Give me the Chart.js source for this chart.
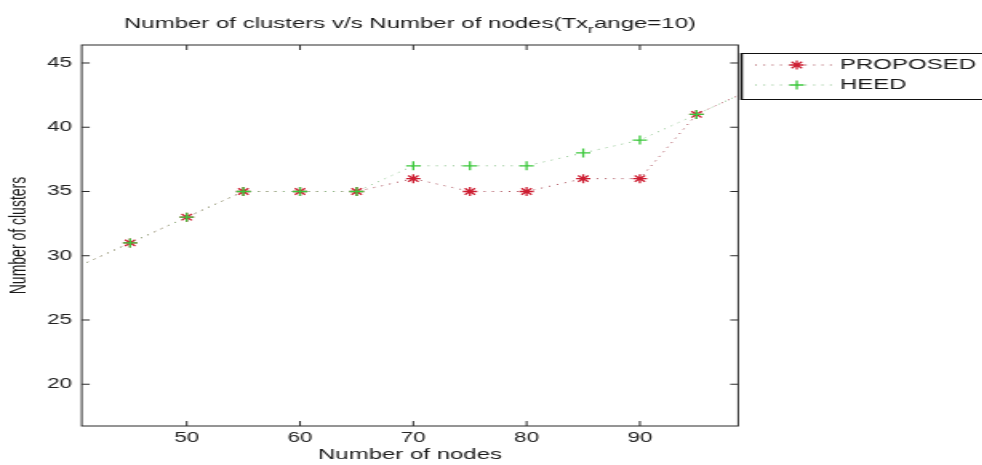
<!DOCTYPE html>
<html>
<head>
<meta charset="utf-8">
<script src="https://cdn.jsdelivr.net/npm/chart.js@4.4.1/dist/chart.umd.min.js"></script>
<style>
body { margin: 0; background: #fff; overflow: hidden; }
#wrap { width: 614px; height: 465px; transform: scaleX(1.6); transform-origin: 0 0; }
</style>
</head>
<body>
<div id="wrap"><canvas id="grafico" width="614" height="465"></canvas></div>
<script>
var nodes = [40, 45, 50, 55, 60, 65, 70, 75, 80, 85, 90, 95, 100];
var proposed = [29, 31, 33, 35, 35, 35, 36, 35, 35, 36, 36, 41, 43];
var heed = [29, 31, 33, 35, 35, 35, 37, 37, 37, 38, 39, 41, 43];
var xTicks = [50, 60, 70, 80, 90];
var yTicks = [20, 25, 30, 35, 40, 45];

var vermelho = 'rgb(205,30,50)';
var verde = 'rgb(60,200,60)';
var linhaVermelha = 'rgb(170,80,90)';
var linhaVerde = 'rgb(140,195,140)';
var tracejado = [1, 4.2];
var fonte = '"Liberation Sans", Arial, sans-serif';

function pontos(valores) {
    var out = [];
    for (var i in nodes) {
        out.push({ x: nodes[i], y: valores[i] });
    }
    return out;
}

function desenhaMarca(ctx, tipo, x, y, r, cor) {
    ctx.strokeStyle = cor;
    ctx.lineWidth = 1.3;
    ctx.setLineDash([]);
    ctx.beginPath();
    ctx.moveTo(x - r, y); ctx.lineTo(x + r, y);
    ctx.moveTo(x, y - r); ctx.lineTo(x, y + r);
    if (tipo == 'star') {
        var d = r * 0.72;
        ctx.moveTo(x - d, y - d); ctx.lineTo(x + d, y + d);
        ctx.moveTo(x - d, y + d); ctx.lineTo(x + d, y - d);
    }
    ctx.stroke();
}

var caixaPlugin = {
    id: 'caixa',
    afterDraw: function (chart) {
        var ctx = chart.ctx, a = chart.chartArea;
        var sx = chart.scales.x, sy = chart.scales.y;
        ctx.save();
        // axes box with inward ticks
        ctx.strokeStyle = '#2a2a2a';
        ctx.lineWidth = 1;
        ctx.strokeRect(a.left, a.top, a.right - a.left, a.bottom - a.top);
        ctx.beginPath();
        sx.ticks.forEach(function (t) {
            var px = sx.getPixelForValue(t.value);
            ctx.moveTo(px, a.bottom); ctx.lineTo(px, a.bottom - 5);
            ctx.moveTo(px, a.top); ctx.lineTo(px, a.top + 5);
        });
        sy.ticks.forEach(function (t) {
            var py = sy.getPixelForValue(t.value);
            ctx.moveTo(a.left, py); ctx.lineTo(a.left + 5, py);
            ctx.moveTo(a.right, py); ctx.lineTo(a.right - 5, py);
        });
        ctx.stroke();

        // title with subscript
        ctx.fillStyle = '#1a1a1a';
        ctx.textBaseline = 'alphabetic';
        ctx.textAlign = 'left';
        var t1 = 'Number of clusters v/s Number of nodes(Tx', sub = 'r', t2 = 'ange=10)';
        ctx.font = '15px ' + fonte;
        var w1 = ctx.measureText(t1).width, w2 = ctx.measureText(t2).width;
        ctx.font = '11px ' + fonte;
        var ws = ctx.measureText(sub).width;
        var x0 = (a.left + a.right) / 2 - (w1 + ws + w2) / 2;
        ctx.font = '15px ' + fonte;
        ctx.fillText(t1, x0, 28);
        ctx.font = '11px ' + fonte;
        ctx.fillText(sub, x0 + w1, 33);
        ctx.font = '15px ' + fonte;
        ctx.fillText(t2, x0 + w1 + ws, 28);

        // legend
        ctx.fillStyle = '#fff';
        ctx.fillRect(463, 53, 200, 46);
        ctx.strokeStyle = '#111';
        ctx.lineWidth = 1;
        ctx.strokeRect(463.5, 53.5, 200, 46);
        ctx.lineWidth = 1.6;
        ctx.beginPath(); ctx.moveTo(463.5, 53); ctx.lineTo(463.5, 100); ctx.stroke();
        var itens = [
            { nome: 'PROPOSED', cor: vermelho, linha: linhaVermelha, tipo: 'star', y: 65 },
            { nome: 'HEED', cor: verde, linha: linhaVerde, tipo: 'cross', y: 85 }
        ];
        itens.forEach(function (it) {
            ctx.strokeStyle = it.linha;
            ctx.lineWidth = 1;
            ctx.setLineDash(tracejado);
            ctx.beginPath(); ctx.moveTo(472, it.y); ctx.lineTo(523, it.y); ctx.stroke();
            desenhaMarca(ctx, it.tipo, 498, it.y, 4.5, it.cor);
            ctx.fillStyle = '#1a1a1a';
            ctx.font = '15px ' + fonte;
            ctx.textBaseline = 'middle';
            ctx.fillText(it.nome, 525, it.y);
        });
        ctx.restore();
    }
};

var grafico = new Chart(document.getElementById('grafico'), {
    type: 'line',
    data: {
        datasets: [
            {
                label: 'PROPOSED',
                order: 2,
                data: pontos(proposed),
                borderColor: linhaVermelha,
                borderWidth: 1,
                borderDash: tracejado,
                pointStyle: 'star',
                pointRadius: 4.5,
                pointBorderWidth: 1.3,
                pointBorderColor: vermelho,
                pointBackgroundColor: vermelho,
                fill: false,
                tension: 0,
                clip: 0
            },
            {
                label: 'HEED',
                order: 1,
                data: pontos(heed),
                borderColor: linhaVerde,
                borderWidth: 1,
                borderDash: tracejado,
                pointStyle: 'cross',
                pointRadius: 4.5,
                pointBorderWidth: 1.3,
                pointBorderColor: verde,
                pointBackgroundColor: verde,
                fill: false,
                tension: 0,
                clip: 0
            }
        ]
    },
    options: {
        responsive: false,
        animation: false,
        devicePixelRatio: 1,
        layout: { padding: { top: 45, right: 152.6, left: 0, bottom: 0 } },
        plugins: {
            legend: { display: false },
            title: { display: false },
            tooltip: { enabled: false }
        },
        scales: {
            x: {
                type: 'linear',
                min: 40.73,
                max: 98.68,
                grid: { display: false, drawTicks: false },
                border: { display: false },
                afterBuildTicks: function (scale) {
                    scale.ticks = xTicks.map(function (v) { return { value: v }; });
                },
                afterFit: function (scale) { scale.height = 39; },
                ticks: { padding: 4, color: '#222', font: { family: fonte, size: 14 } },
                title: {
                    display: true,
                    text: 'Number of nodes',
                    color: '#1a1a1a',
                    padding: { top: 0, bottom: 1 },
                    font: { family: fonte, size: 15 }
                }
            },
            y: {
                type: 'linear',
                min: 16.75,
                max: 46.4,
                grid: { display: false, drawTicks: false },
                border: { display: false },
                afterBuildTicks: function (scale) {
                    scale.ticks = yTicks.map(function (v) { return { value: v }; });
                },
                afterFit: function (scale) { scale.width = 51.1; },
                ticks: { padding: 6, color: '#222', font: { family: fonte, size: 14 } },
                title: {
                    display: true,
                    text: 'Number of clusters',
                    color: '#1a1a1a',
                    padding: { top: 3.6, bottom: 0 },
                    font: { family: fonte, size: 14 }
                }
            }
        }
    },
    plugins: [caixaPlugin]
});
</script>
</body>
</html>
